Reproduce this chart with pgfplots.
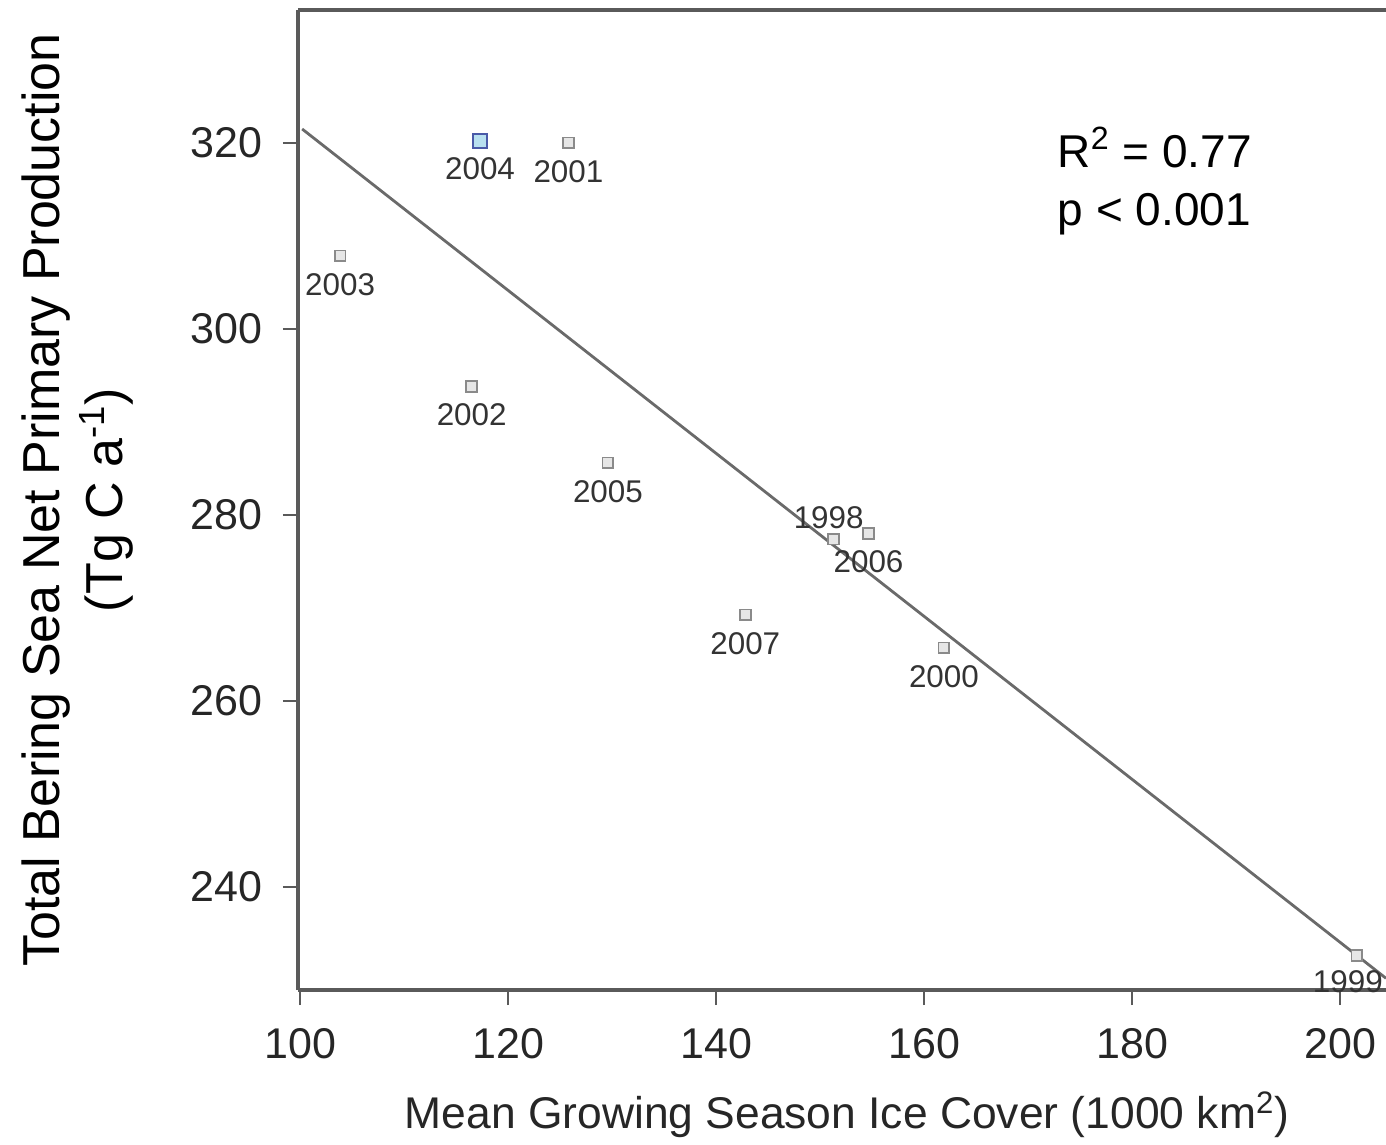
\documentclass[border=0pt]{standalone}
\usepackage{fontspec}
\setmainfont{Liberation Sans}
\usepackage{pgfplots}
\usepackage{pgfplotstable}
\pgfplotsset{compat=1.18}
\definecolor{axgray}{HTML}{5A5A5A}
\definecolor{linegray}{HTML}{6A6A6A}
\definecolor{mkgray}{HTML}{8A8A8A}
\definecolor{mkfill}{HTML}{E6E6E6}
\definecolor{mkblue}{HTML}{4A5AA8}
\definecolor{mkblfill}{HTML}{B8E0F0}
\definecolor{lbl}{HTML}{333333}

\pgfplotstableread{
x y label
125.8 320.0 2001
103.85 307.85 2003
116.5 293.8 2002
129.6 285.6 2005
154.65 278.0 2006
142.8 269.25 2007
161.9 265.7 2000
}\ptsmain
\pgfplotstableread{
x y label
201.6 232.6 1999
}\ptsedge
\pgfplotstableread{
x y label
117.3 320.25 2004
}\ptsblue
\pgfplotstableread{
x y label
151.3 277.4 1998
}\ptsup

\begin{document}
\begin{tikzpicture}
\begin{axis}[
  scale only axis, width=544pt, height=490pt,
  xmin=99.8, xmax=204.4, ymin=228.9, ymax=334.3,
  axis x line=box, axis y line=left,
  axis line style={-, draw=axgray, line width=1.7pt},
  xtick={100,120,...,200}, ytick={240,260,...,320},
  xtick pos=bottom, ytick pos=left, tick align=outside,
  major tick length=7.5pt,
  tick style={draw=axgray, line width=1.2pt},
  /pgf/number format/assume math mode=true,
  ticklabel style={font=\fontsize{21.5}{25}\selectfont, text=black!85},
  xticklabel style={yshift=-8pt},
  yticklabel style={xshift=-7pt},
  xlabel={Mean Growing Season Ice Cover (1000 km\textsuperscript{2})},
  xlabel style={font=\fontsize{22.2}{26}\selectfont, text=black!85, at={(axis description cs:0.5046,-0.1276)}, anchor=center},
  ylabel={Total Bering Sea Net Primary Production\\(Tg C a\textsuperscript{-1})},
  ylabel style={font=\fontsize{26}{31.5}\selectfont, align=center, at={(axis description cs:-0.203,0.5)}, anchor=center},
  clip=false,
  point meta=explicit symbolic,
]
\addplot[linegray, line width=1.4pt] coordinates {(100.2,321.5) (204.4,230.16)};

\addplot[only marks, mark=square*, mark size=2.7pt,
  mark options={draw=mkgray, fill=mkfill, line width=0.9pt},
  nodes near coords,
  every node near coord/.append style={anchor=north, inner sep=0pt, yshift=-8.2pt, font=\fontsize{15.7}{18}\selectfont, text=lbl}]
  table[x=x, y=y, meta=label] {\ptsmain};

\addplot[only marks, mark=square*, mark size=2.7pt,
  mark options={draw=mkgray, fill=mkfill, line width=0.9pt},
  nodes near coords,
  every node near coord/.append style={anchor=north, inner sep=0pt, yshift=-7pt, xshift=-4.5pt, font=\fontsize{15.7}{18}\selectfont, text=lbl}]
  table[x=x, y=y, meta=label] {\ptsedge};

\addplot[only marks, mark=square*, mark size=3.5pt,
  mark options={draw=mkblue, fill=mkblfill, line width=0.9pt},
  nodes near coords,
  every node near coord/.append style={anchor=north, inner sep=0pt, yshift=-8.2pt, font=\fontsize{15.7}{18}\selectfont, text=lbl}]
  table[x=x, y=y, meta=label] {\ptsblue};

\addplot[only marks, mark=square*, mark size=2.7pt,
  mark options={draw=mkgray, fill=mkfill, line width=0.9pt},
  nodes near coords,
  every node near coord/.append style={anchor=south, inner sep=0pt, yshift=4.5pt, xshift=-2.5pt, font=\fontsize{15.7}{18}\selectfont, text=lbl}]
  table[x=x, y=y, meta=label] {\ptsup};

\node[anchor=west, align=left, inner sep=0pt, font=\fontsize{23}{29}\selectfont]
  at (axis cs:172.8,315.9) {R\textsuperscript{2} = 0.77\\p < 0.001};
\end{axis}
\pgfresetboundingbox
\path[use as bounding box] (-149pt,-77.5pt) rectangle (544pt,495pt);
\end{tikzpicture}
\end{document}
